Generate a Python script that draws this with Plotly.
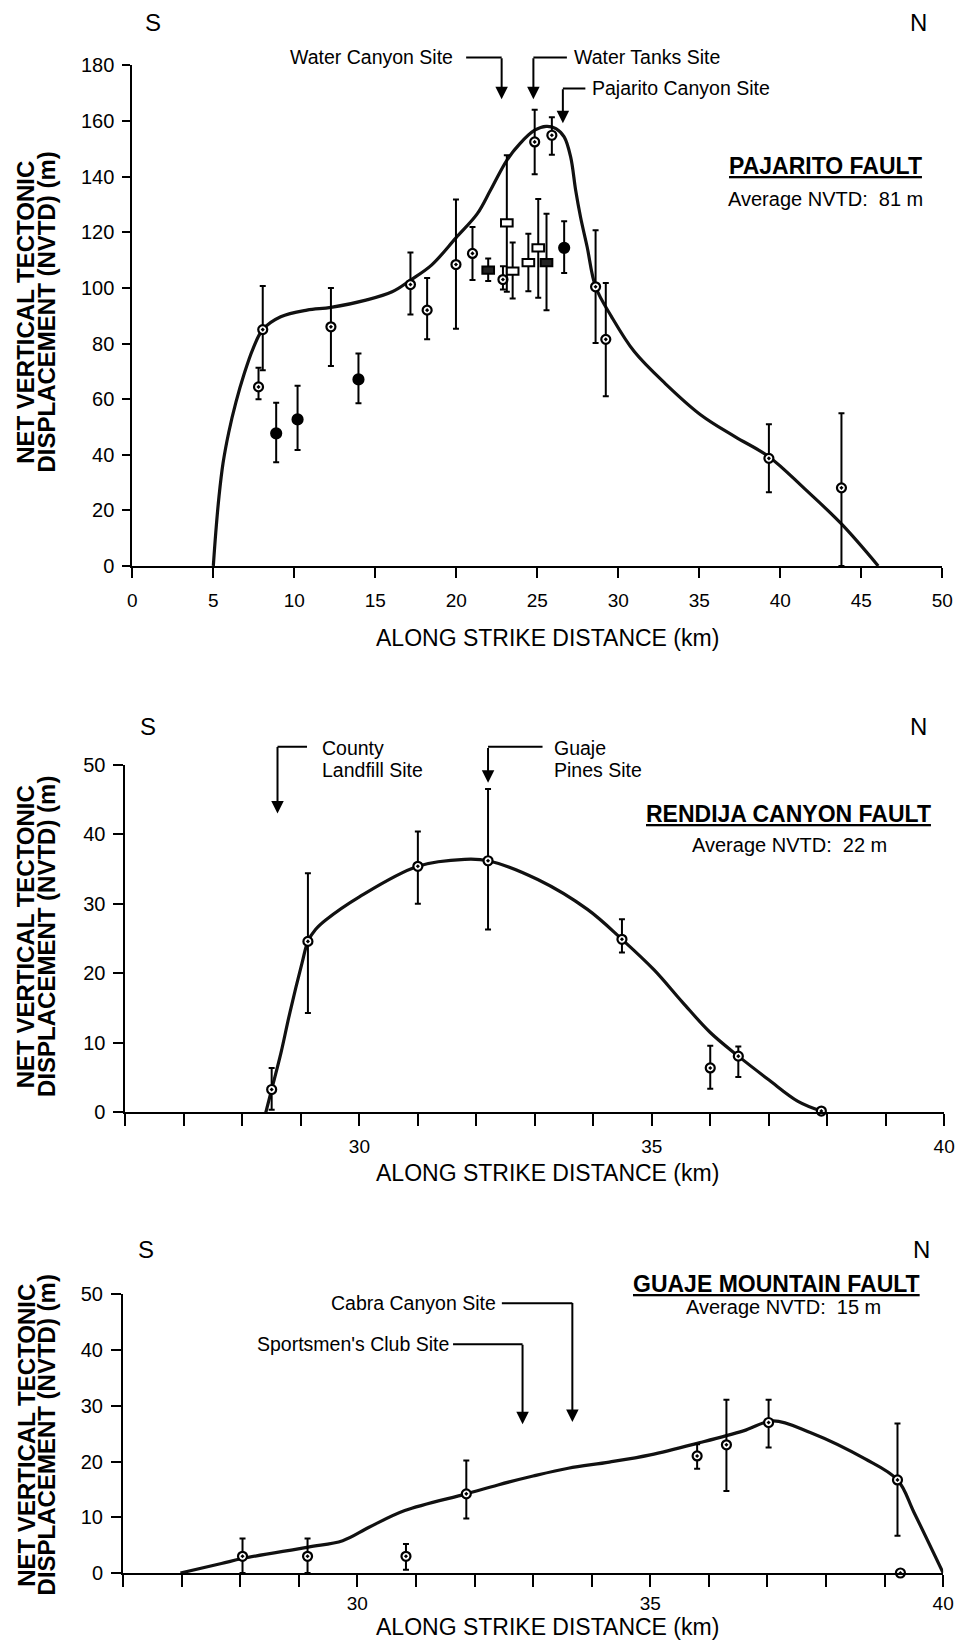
import plotly.graph_objects as go

W, H = 965, 1649
FONT = "Liberation Sans, Arial, Helvetica, sans-serif"

# ---------------- PAJARITO FAULT (top) ----------------
paj_dot_x = [7.79, 8.05, 12.26, 17.17, 18.2, 19.98, 21.0, 22.88, 24.84, 25.9, 28.6, 29.23, 39.3, 43.78]
paj_dot_y = [64.4, 85.0, 86.0, 101.2, 92.0, 108.4, 112.4, 103.0, 152.5, 154.9, 100.4, 81.5, 38.7, 28.1]
paj_dot_hi = [71.3, 100.7, 100.0, 112.7, 103.6, 131.8, 121.9, 107.8, 164.1, 161.4, 120.7, 101.8, 51.0, 54.9]
paj_dot_lo = [60.0, 70.4, 71.9, 90.4, 81.5, 85.3, 102.8, 99.4, 140.9, 147.9, 80.2, 61.0, 26.5, 0.0]

paj_fill_x = [8.88, 10.2, 13.96, 26.66]
paj_fill_y = [47.7, 52.7, 67.1, 114.4]
paj_fill_hi = [58.7, 64.8, 76.4, 124.0]
paj_fill_lo = [37.3, 41.7, 58.5, 105.4]

paj_orect_x = [23.12, 23.48, 24.45, 25.06]
paj_orect_y = [123.4, 106.0, 109.1, 114.4]
paj_orect_hi = [147.7, 116.3, 119.5, 132.0]
paj_orect_lo = [98.6, 96.2, 98.8, 96.5]

paj_frect_x = [21.97, 25.57]
paj_frect_y = [106.4, 109.1]
paj_frect_hi = [110.6, 126.7]
paj_frect_lo = [102.5, 92.0]

paj_curve_x = [5.0, 5.15, 5.35, 5.6, 5.95, 6.4, 6.9, 7.44, 8.05, 9.16, 10.78, 12.26, 14.42, 16.04,
               17.17, 18.47, 19.98, 21.3, 22.1, 23.12, 23.93, 24.84, 25.55, 26.15, 26.66, 27.06,
               27.37, 27.67, 28.08, 28.6, 29.59, 31.0, 32.9, 35.1, 37.2, 39.3, 41.5, 43.78, 46.05]
paj_curve_y = [0, 12.0, 25.0, 37.0, 48.0, 59.0, 69.0, 78.0, 85.0, 89.6, 92.0, 93.0, 95.6, 98.6,
               102.8, 108.2, 118.0, 126.7, 135.0, 145.9, 151.9, 156.7, 158.1, 157.3, 154.3, 147.1,
               135.1, 125.5, 114.7, 100.4, 89.6, 77.0, 65.6, 54.3, 46.5, 39.3, 27.8, 15.1, 0]

paj_sites = ["Water Canyon Site", "Water Tanks Site", "Pajarito Canyon Site"]
paj_site_km = [22.8, 24.76, 26.58]
paj_site_tip = [167.8, 167.8, 159.2]

# ---------------- RENDIJA CANYON FAULT (middle) ----------------
ren_x = [28.5, 29.12, 31.0, 32.2, 34.49, 36.0, 36.48]
ren_y = [3.3, 24.6, 35.4, 36.2, 24.9, 6.4, 8.1]
ren_hi = [6.4, 34.4, 40.4, 46.5, 27.8, 9.6, 9.5]
ren_lo = [0.4, 14.3, 30.0, 26.3, 23.0, 3.4, 5.1]
ren_end_x = [37.9]
ren_end_y = [0.2]

ren_curve_x = [28.4, 28.5, 28.66, 28.81, 29.02, 29.12, 29.25, 29.43, 30.0, 31.0, 31.8, 32.2, 33.05,
               33.9, 34.49, 35.04, 35.53, 36.0, 36.48, 37.0, 37.5, 37.9]
ren_curve_y = [0, 3.3, 8.6, 14.3, 21.5, 24.6, 26.3, 27.7, 31.0, 35.4, 36.4, 36.2, 33.5,
               29.2, 24.9, 20.5, 15.8, 11.5, 8.1, 4.7, 1.6, 0.2]

ren_site_km = [28.6, 32.2]
ren_site_tip = [43.0, 47.4]

# ---------------- GUAJE MOUNTAIN FAULT (bottom) ----------------
gua_x = [28.04, 29.15, 30.83, 31.86, 35.8, 36.3, 37.02, 39.22]
gua_y = [3.0, 3.0, 3.0, 14.2, 21.0, 23.0, 27.0, 16.7]
gua_hi = [6.2, 6.2, 5.2, 20.2, 23.1, 31.1, 31.1, 26.8]
gua_lo = [0.0, 0.0, 0.6, 9.8, 18.7, 14.7, 22.5, 6.7]
gua_end_x = [39.27]
gua_end_y = [0.0]

gua_curve_x = [26.98, 27.68, 28.04, 29.16, 29.75, 30.2, 30.81, 31.86, 32.4, 33.0, 33.6, 34.3,
               35.0, 35.85, 36.59, 37.1, 37.73, 38.66, 39.22, 39.5, 40.0]
gua_curve_y = [0, 1.7, 2.6, 4.65, 5.8, 8.2, 11.2, 14.2, 15.8, 17.4, 18.8, 19.9,
               21.2, 23.4, 25.5, 27.3, 25.2, 20.5, 16.7, 10.9, 0]

gua_site_km = [33.67, 32.82]
gua_site_tip = [27.1, 26.7]

# screen -> page compensation (vertical: the photographed page comes out slightly shrunk)
SX, OX = 1.0, 0.0
SY, OY = 0.9876, 10.5
FS = 1.0


def px(p):
    return min(1.0, max(0.0, ((p - OX) / SX) / W))


def py(p):
    return min(1.0, max(0.0, 1 - ((p - OY) / SY) / H))


fig = go.Figure()


def err(y, hi, lo):
    return dict(type="data", symmetric=False,
                array=[h - v for h, v in zip(hi, y)],
                arrayminus=[v - l for v, l in zip(y, lo)],
                color="black", thickness=2, width=3)


def curve(x, y, xa, ya):
    fig.add_trace(go.Scatter(x=x, y=y, mode="lines", xaxis=xa, yaxis=ya,
                             line=dict(color="#111", width=3.2, shape="spline", smoothing=1.0),
                             cliponaxis=False, hoverinfo="skip"))


def pts(x, y, hi, lo, xa, ya, symbol="circle-dot", fill="white", size=9):
    fig.add_trace(go.Scatter(x=x, y=y, mode="markers", xaxis=xa, yaxis=ya,
                             error_y=err(y, hi, lo) if hi is not None else None,
                             marker=dict(symbol=symbol, size=size, color=fill,
                                         line=dict(color="black", width=2.2)),
                             cliponaxis=False))


# top
curve(paj_curve_x, paj_curve_y, "x", "y")
pts(paj_dot_x, paj_dot_y, paj_dot_hi, paj_dot_lo, "x", "y")
pts(paj_fill_x, paj_fill_y, paj_fill_hi, paj_fill_lo, "x", "y", symbol="circle", fill="black", size=10)
pts(paj_orect_x, paj_orect_y, paj_orect_hi, paj_orect_lo, "x", "y", symbol="line-ew", fill="black", size=1)
pts(paj_frect_x, paj_frect_y, paj_frect_hi, paj_frect_lo, "x", "y", symbol="line-ew", fill="black", size=1)

# middle
curve(ren_curve_x, ren_curve_y, "x2", "y2")
pts(ren_x, ren_y, ren_hi, ren_lo, "x2", "y2")
pts(ren_end_x, ren_end_y, None, None, "x2", "y2")

# bottom
curve(gua_curve_x, gua_curve_y, "x3", "y3")
pts(gua_x, gua_y, gua_hi, gua_lo, "x3", "y3")
pts(gua_end_x, gua_end_y, None, None, "x3", "y3")

shapes = []
RW, RH = 0.36, 1.3
for xs, ys, fc in ((paj_orect_x, paj_orect_y, "white"), (paj_frect_x, paj_frect_y, "#222")):
    for xv, yv in zip(xs, ys):
        shapes.append(dict(type="rect", xref="x", yref="y", x0=xv - RW, x1=xv + RW,
                           y0=yv - RH, y1=yv + RH, fillcolor=fc,
                           line=dict(color="black", width=2), layer="above"))

ann = []


def text(x, y, s, size=19.5, xanchor="center", bold=False):
    if bold:
        s = "<b>" + s + "</b>"
    ann.append(dict(x=px(x), y=py(y), xref="paper", yref="paper", text=s, showarrow=False,
                    xanchor=xanchor, yanchor="middle",
                    font=dict(size=size * FS, color="black", family=FONT)))


def site_arrow(xa, ya, km, tip, top_px, tip_px, dx):
    # vertical arrow to the site
    ann.append(dict(x=km, y=tip, xref=xa, yref=ya, ax=0, ay=-(tip_px - top_px) / SY, axref="pixel",
                    ayref="pixel", text="", showarrow=True, arrowhead=2, arrowsize=1.25,
                    arrowwidth=2, arrowcolor="black", standoff=0))
    # horizontal leader to the label
    ann.append(dict(x=km, y=py(top_px), xref=xa, yref="paper", ax=dx / SX, ay=0, text="",
                    showarrow=True, arrowhead=0, arrowwidth=2, arrowcolor="black", standoff=0))


# top panel labels
site_arrow("x", "y", paj_site_km[0], paj_site_tip[0], 57, 99, -37)
site_arrow("x", "y", paj_site_km[1], paj_site_tip[1], 57, 99, 35)
site_arrow("x", "y", paj_site_km[2], paj_site_tip[2], 88, 123, 24)
text(458, 57, paj_sites[0], xanchor="right")
text(577, 57, paj_sites[1], xanchor="left")
text(595, 88, paj_sites[2], xanchor="left")
text(151, 22, "S", size=24)
text(929, 22, "N", size=24)
text(834, 166, "<u>PAJARITO FAULT</u>", size=23, bold=True)
text(834, 199, "Average NVTD:  81 m", size=20)

# middle
site_arrow("x2", "y2", ren_site_km[0], ren_site_tip[0], 747, 814, 31)
site_arrow("x2", "y2", ren_site_km[1], ren_site_tip[1], 747, 783, 56)
text(320, 748, "County", xanchor="left")
text(320, 770, "Landfill Site", xanchor="left")
text(556, 748, "Guaje", xanchor="left")
text(556, 770, "Pines Site", xanchor="left")
text(145, 727, "S", size=24)
text(929, 727, "N", size=24)
text(797, 814, "<u>RENDIJA CANYON FAULT</u>", size=23, bold=True)
text(798, 845, "Average NVTD:  22 m", size=20)

# bottom
site_arrow("x3", "y3", gua_site_km[0], gua_site_tip[0], 1304, 1423, -72)
site_arrow("x3", "y3", gua_site_km[1], gua_site_tip[1], 1345, 1425, -71)
text(501, 1304, "Cabra Canyon Site", xanchor="right")
text(454, 1345, "Sportsmen's Club Site", xanchor="right")
text(143, 1250, "S", size=24)
text(932, 1250, "N", size=24)
text(785, 1285, "<u>GUAJE MOUNTAIN FAULT</u>", size=23, bold=True)
text(792, 1308, "Average NVTD:  15 m", size=20)

# axis titles
for yc, yx in ((312, 638), (937, 1174), (1436, 1628)):
    text(552, yx, "ALONG STRIKE DISTANCE (km)", size=23)
    for xc, s in ((21, "NET VERTICAL TECTONIC"), (42, "DISPLACEMENT (NVTD) (m)")):
        ann.append(dict(x=px(xc), y=py(yc), xref="paper", yref="paper", text="<b>" + s + "</b>",
                        showarrow=False, textangle=-90, xanchor="center", yanchor="middle",
                        font=dict(size=24 * FS, color="black", family=FONT)))

axis_common = dict(showline=True, linecolor="black", linewidth=2, ticks="outside",
                   tickcolor="black", tickwidth=2, showgrid=False, zeroline=False)
xfont = dict(size=19 * FS, color="black", family=FONT)
yfont = dict(size=20 * FS, color="black", family=FONT)

mid_ticks = list(range(26, 41))
mid_text = [str(t) if t in (30, 35, 40) else "" for t in mid_ticks]

fig.update_layout(
    width=W, height=H, margin=dict(l=0, r=0, t=0, b=0),
    paper_bgcolor="white", plot_bgcolor="white", showlegend=False,
    font=dict(family=FONT, color="black"),
    xaxis=dict(domain=[px(129.5), px(953)], range=[0, 50], tickvals=list(range(0, 51, 5)),
               anchor="y", ticklen=10, ticklabelstandoff=6, tickfont=xfont, **axis_common),
    yaxis=dict(domain=[py(566), py(65)], range=[0, 180], tickvals=list(range(0, 181, 20)),
               anchor="x", ticklen=8, ticklabelstandoff=4, tickfont=yfont, **axis_common),
    xaxis2=dict(domain=[px(122.5), px(955)], range=[26, 40], tickvals=mid_ticks, ticktext=mid_text,
                anchor="y2", ticklen=12, ticklabelstandoff=4, tickfont=xfont, **axis_common),
    yaxis2=dict(domain=[py(1113), py(765)], range=[0, 50], tickvals=list(range(0, 51, 10)),
                anchor="x2", ticklen=10, ticklabelstandoff=4, tickfont=yfont, **axis_common),
    xaxis3=dict(domain=[px(120), px(954)], range=[26, 40], tickvals=mid_ticks, ticktext=mid_text,
                anchor="y3", ticklen=12, ticklabelstandoff=0, tickfont=xfont, **axis_common),
    yaxis3=dict(domain=[py(1574), py(1295)], range=[0, 50], tickvals=list(range(0, 51, 10)),
                anchor="x3", ticklen=10, ticklabelstandoff=4, tickfont=yfont, **axis_common),
    shapes=shapes, annotations=ann,
)

fig.write_html("out.html", config={"displayModeBar": False},
               post_script="document.body.style.margin='0';document.body.style.overflow='hidden';")
